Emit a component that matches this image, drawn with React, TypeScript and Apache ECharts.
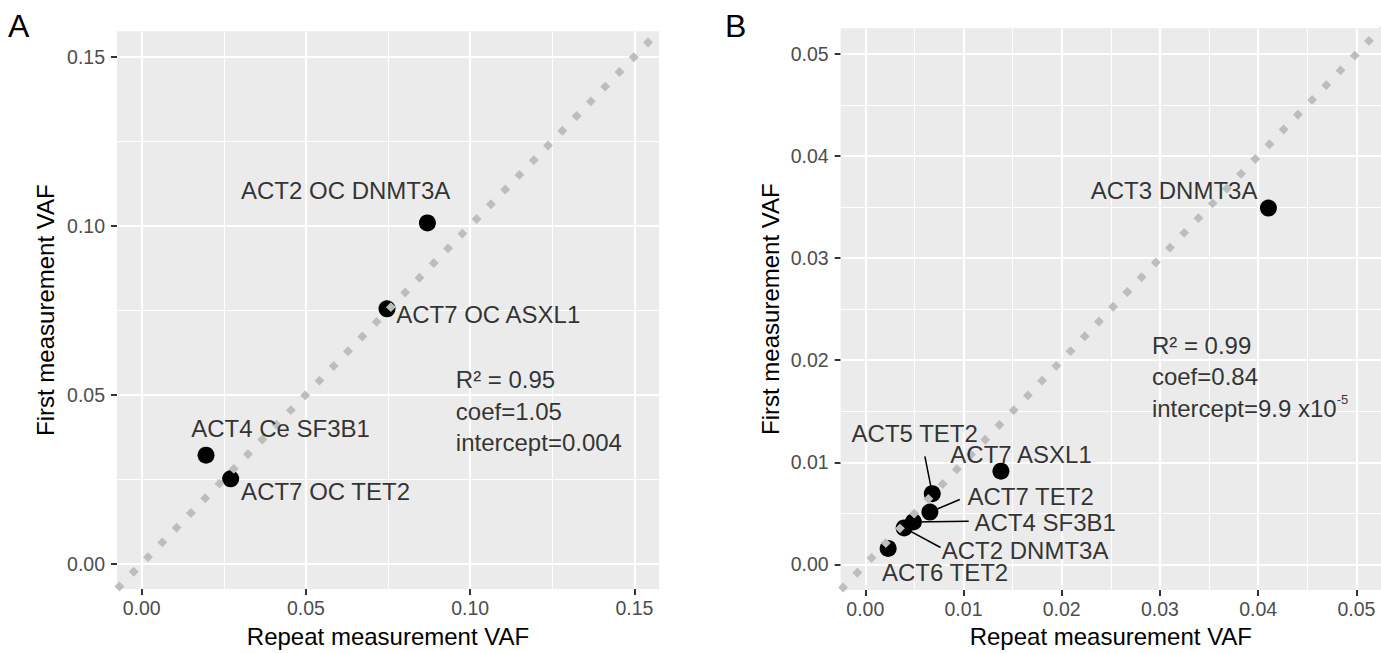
import React, { useEffect, useRef } from "react";
import * as echarts from "echarts";

const FONT = '"Liberation Sans", Arial, Helvetica, sans-serif';

// ---------- Panel A data ----------
const aNames = ["ACT2 OC DNMT3A", "ACT7 OC ASXL1", "ACT4 Ce SF3B1", "ACT7 OC TET2"];
const aRepeat = [0.087, 0.0747, 0.0196, 0.0271];
const aFirst = [0.1008, 0.0754, 0.0321, 0.0251];
const aTicks = [0, 0.05, 0.1, 0.15];
const aMinor = [0.025, 0.075, 0.125];
const aLimits = [-0.0075, 0.1575];
const aStats = ["R² = 0.95", "coef=1.05", "intercept=0.004"];

// ---------- Panel B data ----------
const bNames = ["ACT3 DNMT3A", "ACT7 ASXL1", "ACT5 TET2", "ACT7 TET2", "ACT4 SF3B1", "ACT2 DNMT3A", "ACT6 TET2"];
const bRepeat = [0.04104, 0.01381, 0.00682, 0.00658, 0.0049, 0.00396, 0.00233];
const bFirst = [0.0349, 0.00913, 0.00693, 0.00513, 0.00417, 0.00358, 0.00157];
const bTicks = [0, 0.01, 0.02, 0.03, 0.04, 0.05];
const bMinor = [0.005, 0.015, 0.025, 0.035, 0.045];
const bLimits = [-0.0025, 0.0525];
const bStats = ["R² = 0.99", "coef=0.84", "intercept=9.9 x10{sup|-5}"];

// ---------- label layout (data coordinates of label centres / segment ends) ----------
const aLabelAt = [[0.0621, 0.1104], [0.1055, 0.0738], [0.0423, 0.0399], [0.056, 0.0212]];
const bLabelAt = [[0.03144, 0.03666], [0.01586, 0.01079], [0.00503, 0.01287], [0.01683, 0.00661], [0.01832, 0.00408], [0.01627, 0.0014], [0.00812, -0.00075]];
const bSegmentEnd: (number[] | null)[] = [null, null, [0.00607, 0.01059], [0.00962, 0.00636], [0.01053, 0.00423], [0.00766, 0.00166], null];
const aStatsAt = [0.0958, 0.059];
const bStatsAt = [0.02923, 0.02299];

type Panel = {
  names: string[];
  xs: number[];
  ys: number[];
  ticks: number[];
  minor: number[];
  lim: number[];
  stats: string[];
  labelAt: number[][];
  segEnd: (number[] | null)[];
  statsAt: number[];
  grid: any;
  xNameGap: number;
  yNameGap: number;
};

const panels: Panel[] = [
  {
    names: aNames, xs: aRepeat, ys: aFirst, ticks: aTicks, minor: aMinor, lim: aLimits,
    stats: aStats, labelAt: aLabelAt, segEnd: aNames.map(() => null), statsAt: aStatsAt,
    grid: { left: 117, top: 31.3, width: 542, height: 563.4 },
    xNameGap: 35, yNameGap: 60,
  },
  {
    names: bNames, xs: bRepeat, ys: bFirst, ticks: bTicks, minor: bMinor, lim: bLimits,
    stats: bStats, labelAt: bLabelAt, segEnd: bSegmentEnd, statsAt: bStatsAt,
    grid: { left: 840.7, top: 28.3, width: 543.3, height: 562.4 },
    xNameGap: 34, yNameGap: 58,
  },
];

function buildOption() {
  const grids: any[] = [];
  const xAxes: any[] = [];
  const yAxes: any[] = [];
  const series: any[] = [];

  panels.forEach((p, i) => {
    grids.push({
      ...p.grid,
      show: true,
      backgroundColor: "#EBEBEB",
      borderWidth: 0,
      containLabel: false,
    });
    const common = (name: string, gap: number, margin: number) => ({
      type: "value",
      gridIndex: i,
      min: p.lim[0],
      max: p.lim[1],
      name,
      nameLocation: "middle",
      nameGap: gap,
      nameTextStyle: { color: "#000", fontSize: 24, fontFamily: FONT, lineHeight: 24 },
      axisLine: { show: false, onZero: false },
      axisTick: { show: true, length: 6, customValues: p.ticks, lineStyle: { color: "#333333", width: 2 } },
      axisLabel: {
        customValues: p.ticks,
        formatter: (v: number) => v.toFixed(2),
        color: "#4D4D4D",
        fontSize: 19.5,
        fontFamily: FONT,
        margin,
        lineHeight: 20,
      },
      splitLine: { show: false },
    });
    xAxes.push(common("Repeat measurement VAF", p.xNameGap, 8.7));
    yAxes.push(common("First measurement VAF", p.yNameGap, 12));

    const gridLineSeries = (vals: number[], width: number) => ({
      type: "lines",
      coordinateSystem: "cartesian2d",
      xAxisIndex: i,
      yAxisIndex: i,
      z: 1,
      silent: true,
      lineStyle: { color: "#FFFFFF", width, opacity: 1 },
      data: [
        ...vals.map((v) => ({ coords: [[v, p.lim[0]], [v, p.lim[1]]] })),
        ...vals.map((v) => ({ coords: [[p.lim[0], v], [p.lim[1], v]] })),
      ],
    });
    series.push(gridLineSeries(p.minor, 1.1));
    series.push(gridLineSeries(p.ticks, 2.2));

    // repel segments
    const segs = p.segEnd
      .map((e, k) => (e ? { coords: [[p.xs[k], p.ys[k]], e] } : null))
      .filter((d) => d);
    if (segs.length) {
      series.push({
        type: "lines",
        coordinateSystem: "cartesian2d",
        xAxisIndex: i,
        yAxisIndex: i,
        z: 2,
        silent: true,
        lineStyle: { color: "#000", width: 1.5, opacity: 1 },
        data: segs,
      });
    }

    // points
    series.push({
      type: "scatter",
      xAxisIndex: i,
      yAxisIndex: i,
      z: 3,
      symbol: "circle",
      symbolSize: 17,
      itemStyle: { color: "#000", opacity: 1 },
      silent: true,
      data: p.xs.map((x, k) => [x, p.ys[k]]),
    });

    // identity line
    series.push({
      type: "line",
      xAxisIndex: i,
      yAxisIndex: i,
      z: 4,
      silent: true,
      symbol: "none",
      lineStyle: { color: "#BDBDBD", width: 7, type: [7, 13.5], cap: "butt", opacity: 1 },
      data: [[p.lim[0], p.lim[0]], [p.lim[1], p.lim[1]]],
    });

    // point labels
    series.push({
      type: "scatter",
      xAxisIndex: i,
      yAxisIndex: i,
      z: 5,
      silent: true,
      symbolSize: 1,
      itemStyle: { color: "rgba(0,0,0,0)" },
      label: {
        show: true,
        position: "inside",
        formatter: "{b}",
        color: "#000",
        fontSize: 24,
        fontFamily: FONT,
      },
      labelLayout: { hideOverlap: false },
      data: p.labelAt.map((pos, k) => ({ name: p.names[k], value: pos })),
    });

    // stats annotation
    series.push({
      type: "scatter",
      xAxisIndex: i,
      yAxisIndex: i,
      z: 5,
      silent: true,
      symbolSize: 1,
      itemStyle: { color: "rgba(0,0,0,0)" },
      label: {
        show: true,
        position: [0, 0],
        align: "left",
        verticalAlign: "top",
        formatter: p.stats.join("\n"),
        color: "#000",
        fontSize: 24,
        lineHeight: 31.7,
        fontFamily: FONT,
        rich: {
          sup: { fontSize: 13, lineHeight: 25, verticalAlign: "top", color: "#000", fontFamily: FONT },
        },
      },
      data: [{ name: "stats", value: p.statsAt }],
    });
  });

  return {
    animation: false,
    textStyle: { fontFamily: FONT },
    grid: grids,
    xAxis: xAxes,
    yAxis: yAxes,
    series,
    graphic: [
      { type: "text", left: 8, top: 10, style: { text: "A", fontSize: 32, fontFamily: FONT, fill: "#000" } },
      { type: "text", left: 725, top: 10, style: { text: "B", fontSize: 32, fontFamily: FONT, fill: "#000" } },
    ],
  };
}

export default function App() {
  const ref = useRef<HTMLDivElement>(null);
  useEffect(() => {
    document.body.style.margin = "0";
    const chart = echarts.init(ref.current!, null, { renderer: "svg" });
    chart.setOption(buildOption() as any);
    return () => chart.dispose();
  }, []);
  return <div ref={ref} style={{ width: 1381, height: 653, background: "#fff" }} />;
}
